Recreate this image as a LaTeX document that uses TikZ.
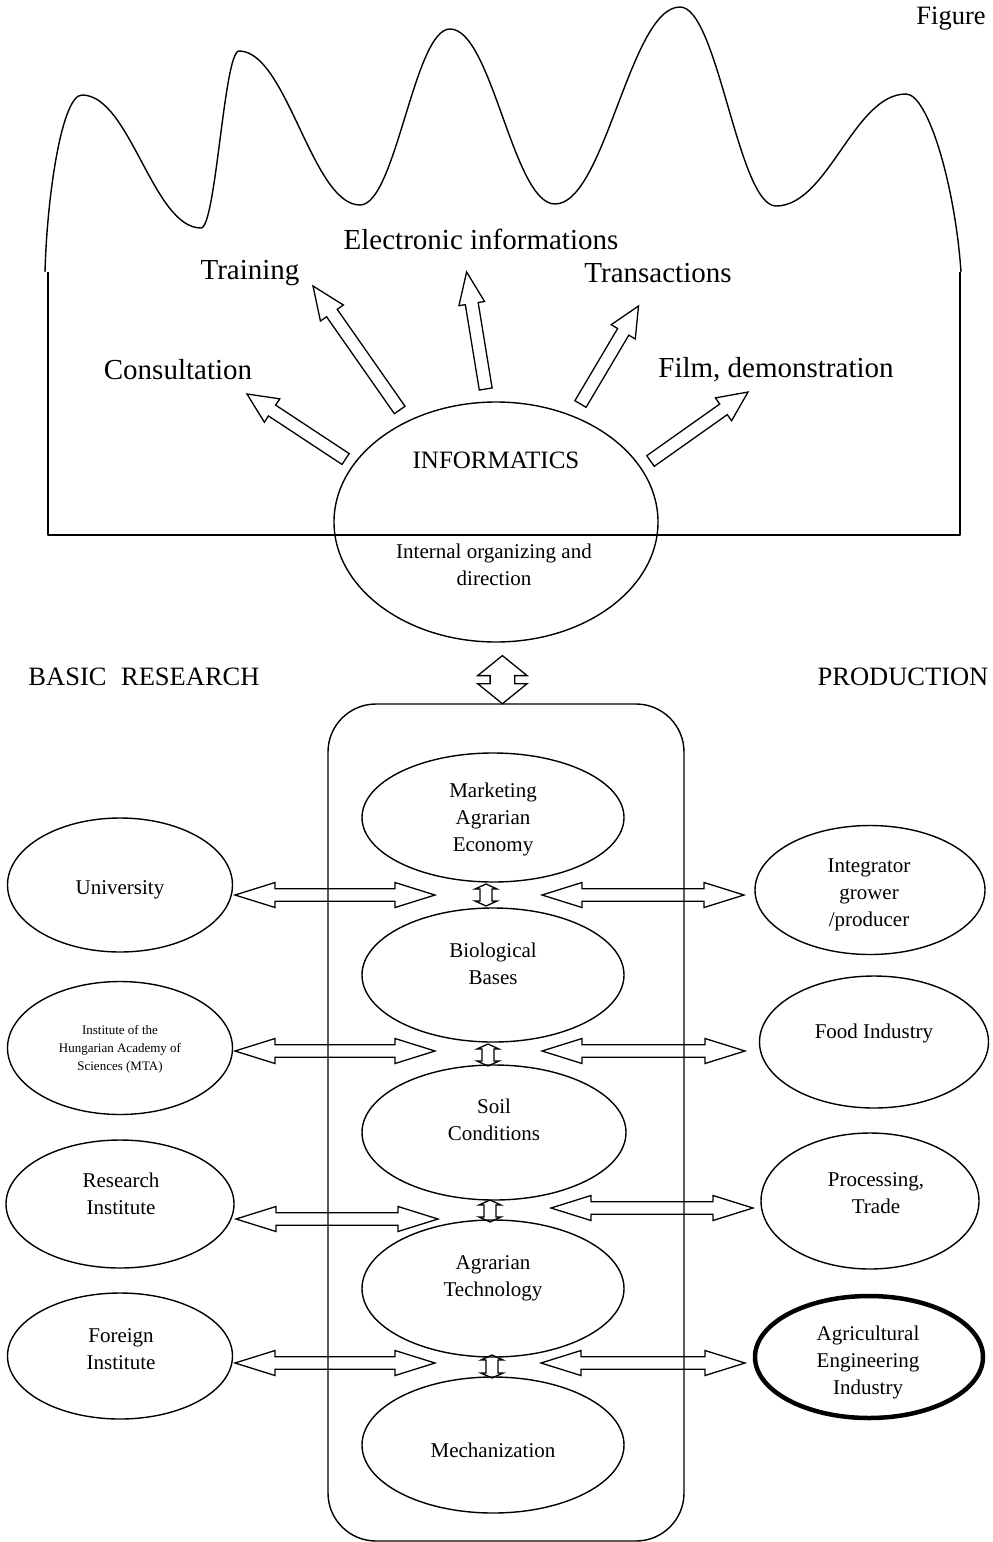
\documentclass[tikz,border=0pt]{standalone}
\usepackage{fontspec}
\setmainfont{Liberation Serif}
\usetikzlibrary{calc,shapes.geometric}

% hollow block arrow from tail #1 to tip #2: shaft half width #3, head half width #4, head length #5
\newcommand\outarrow[5]{%
  \coordinate (hb) at ($(#2)!#5!(#1)$);
  \draw[blockarrow] ($(#1)!#3!90:(#2)$) -- ($(hb)!#3!-90:(#1)$) -- ($(hb)!#4!-90:(#1)$) -- (#2)
    -- ($(hb)!#4!90:(#1)$) -- ($(hb)!#3!90:(#1)$) -- ($(#1)!#3!-90:(#2)$) -- cycle;
}
% hollow double-headed block arrow between tips #1 and #2
\newcommand\twowayarrow[5]{%
  \coordinate (hba) at ($(#1)!#5!(#2)$);
  \coordinate (hbb) at ($(#2)!#5!(#1)$);
  \draw[blockarrow] (#1) -- ($(hba)!#4!90:(#2)$) -- ($(hba)!#3!90:(#2)$) -- ($(hbb)!#3!-90:(#1)$)
    -- ($(hbb)!#4!-90:(#1)$) -- (#2) -- ($(hbb)!#4!90:(#1)$) -- ($(hbb)!#3!90:(#1)$)
    -- ($(hba)!#3!-90:(#2)$) -- ($(hba)!#4!-90:(#2)$) -- cycle;
}

\begin{document}
\begin{tikzpicture}[x=1pt,y=-1pt,
  outline/.style={draw, line width=1.4pt, line join=round},
  oval/.style={draw, ellipse, line width=1.4pt, inner sep=0pt},
  boldoval/.style={oval, line width=4.5pt},
  lbl/.style={align=center, inner sep=0pt, font=\fontsize{21}{27}\selectfont},
  tinylbl/.style={align=center, inner sep=0pt, font=\fontsize{13}{18}\selectfont},
  biglbl/.style={inner sep=0pt, font=\fontsize{29}{33}\selectfont},
  headlbl/.style={inner sep=0pt, font=\fontsize{26.5}{30}\selectfont},
  infolbl/.style={inner sep=0pt, font=\fontsize{25}{30}\selectfont},
  blockarrow/.style={draw, line width=1.3pt, line join=miter},
]
\useasboundingbox (0,0) rectangle (993,1542);

% ---------- upper panel: wavy outline over an open frame ----------
\draw[outline] (45,272) .. controls (47,195) and (62,95) .. (82,95)
  .. controls (130,95) and (153,228) .. (201,228)
  .. controls (216,228) and (224,51) .. (239,51)
  .. controls (287,51) and (312,205) .. (360,205)
  .. controls (396,205) and (414,29) .. (450,29)
  .. controls (492,29) and (513,204) .. (555,204)
  .. controls (605,204) and (630,7) .. (680,7)
  .. controls (718,7) and (738,206) .. (776,206)
  .. controls (828,206) and (854,94) .. (906,94)
  .. controls (928,94) and (955,185) .. (961,272);
\draw[outline] (48,272) -- (48,535) -- (960,535) -- (960,272);

\node[headlbl] (fig) at (951,19) {Figure};

\node[biglbl] (elec) at (481,239) {Electronic informations};
\node[biglbl] (train) at (250,273) {Training};
\node[biglbl] (trans) at (658,273) {Transactions};
\node[biglbl] (consult) at (178,370) {Consultation};
\node[biglbl] (film) at (776,370) {Film, demonstration};

\node[oval, minimum width=324pt, minimum height=240pt] (info) at (496,522) {};
\node[infolbl] (infot) at (496,460) {INFORMATICS};
\node[lbl] (internal) at (494,565) {Internal organizing and\\direction};

% arrows radiating from the informatics ellipse
\coordinate (a1t) at (345.6,459);  \coordinate (a1h) at (247,394);
\coordinate (a2t) at (399.7,410);  \coordinate (a2h) at (313,286);
\coordinate (a3t) at (485.7,389);  \coordinate (a3h) at (466.6,272);
\coordinate (a4t) at (580.5,404);  \coordinate (a4h) at (638.5,306);
\coordinate (a5t) at (650.5,461);  \coordinate (a5h) at (748,392);
\outarrow{a1t}{a1h}{6.5pt}{14pt}{30pt}
\outarrow{a2t}{a2h}{6.5pt}{14pt}{33pt}
\outarrow{a3t}{a3h}{6.5pt}{13pt}{32pt}
\outarrow{a4t}{a4h}{6.5pt}{14pt}{30pt}
\outarrow{a5t}{a5h}{6.5pt}{14pt}{30pt}

% ---------- side headings ----------
\node[headlbl] (basic) at (144,677) {BASIC\hspace{0.55em}RESEARCH};
\node[headlbl] (prod) at (903,677) {PRODUCTION};

% link between informatics and the central column
\coordinate (lk1) at (502.4,655.6);
\coordinate (lk2) at (502.4,703.7);
\twowayarrow{lk1}{lk2}{12.3pt}{24.7pt}{20pt}

% ---------- central column ----------
\draw[outline, rounded corners=48pt] (328,704) rectangle (684,1541);

\node[oval, minimum width=262pt, minimum height=129pt] (mkt) at (493,817.5) {};
\node[lbl] (mktt) at (493,819) {Marketing\\Agrarian\\Economy};
\node[oval, minimum width=262pt, minimum height=134pt] (bio) at (493,975) {};
\node[lbl] (biot) at (493,963.5) {Biological\\Bases};
\node[oval, minimum width=264pt, minimum height=135pt] (soil) at (494,1132.5) {};
\node[lbl] (soilt) at (494,1119.5) {Soil\\Conditions};
\node[oval, minimum width=262pt, minimum height=137pt] (agr) at (493,1288.5) {};
\node[lbl] (agrt) at (493,1278.5) {Agrarian\\Technology};
\node[oval, minimum width=262pt, minimum height=136pt] (mech) at (493,1445) {};
\node[lbl] (mecht) at (493,1450) {Mechanization};

% small links between the stacked ellipses
\coordinate (s1a) at (486,884);   \coordinate (s1b) at (486,906);
\coordinate (s2a) at (488,1044);  \coordinate (s2b) at (488,1066);
\coordinate (s3a) at (490,1200);  \coordinate (s3b) at (490,1222);
\coordinate (s4a) at (492,1355);  \coordinate (s4b) at (492,1378);
\twowayarrow{s1a}{s1b}{6pt}{11pt}{5pt}
\twowayarrow{s2a}{s2b}{6pt}{11pt}{5pt}
\twowayarrow{s3a}{s3b}{6pt}{11pt}{5pt}
\twowayarrow{s4a}{s4b}{6pt}{11pt}{5pt}

% ---------- basic research side ----------
\node[oval, minimum width=225pt, minimum height=134pt] (uni) at (120,885) {};
\node[lbl] (unit) at (120,890) {University};
\node[oval, minimum width=225pt, minimum height=133pt] (mta) at (120,1048) {};
\node[tinylbl] (mtat) at (120,1049) {Institute of the\\Hungarian Academy of\\Sciences (MTA)};
\node[oval, minimum width=228pt, minimum height=128pt] (res) at (120,1204) {};
\node[lbl] (rest) at (121,1193.5) {Research\\Institute};
\node[oval, minimum width=225pt, minimum height=126pt] (for) at (120,1356) {};
\node[lbl] (fort) at (121,1349.5) {Foreign\\Institute};

% ---------- production side ----------
\node[oval, minimum width=230pt, minimum height=129pt] (integ) at (870,890) {};
\node[lbl] (integt) at (869,895) {Integrator\\grower\\/producer};
\node[oval, minimum width=229pt, minimum height=132pt] (food) at (874,1042) {};
\node[lbl] (foodt) at (874,1033) {Food Industry};
\node[oval, minimum width=218pt, minimum height=136pt] (proc) at (870,1201) {};
\node[lbl] (proct) at (876,1193.5) {Processing,\\Trade};
\node[boldoval, minimum width=228pt, minimum height=122pt] (agi) at (869,1357) {};
\node[lbl] (agit) at (868,1362.5) {Agricultural\\Engineering\\Industry};

% ---------- horizontal links ----------
\coordinate (l1a) at (235,895);   \coordinate (l1b) at (435,895);
\coordinate (l2a) at (235,1051);  \coordinate (l2b) at (435,1051);
\coordinate (l3a) at (236,1219);  \coordinate (l3b) at (438,1219);
\coordinate (l4a) at (235,1363);  \coordinate (l4b) at (435,1363);
\coordinate (r1a) at (542,895);   \coordinate (r1b) at (744,895);
\coordinate (r2a) at (542,1051);  \coordinate (r2b) at (745,1051);
\coordinate (r3a) at (551,1208);  \coordinate (r3b) at (753,1208);
\coordinate (r4a) at (541,1363);  \coordinate (r4b) at (745,1363);
\twowayarrow{l1a}{l1b}{6.2pt}{12.5pt}{40pt}
\twowayarrow{l2a}{l2b}{6.2pt}{12.5pt}{40pt}
\twowayarrow{l3a}{l3b}{6.2pt}{12.5pt}{40pt}
\twowayarrow{l4a}{l4b}{6.2pt}{12.5pt}{40pt}
\twowayarrow{r1a}{r1b}{6.2pt}{12.5pt}{40pt}
\twowayarrow{r2a}{r2b}{6.2pt}{12.5pt}{40pt}
\twowayarrow{r3a}{r3b}{6.2pt}{12.5pt}{40pt}
\twowayarrow{r4a}{r4b}{6.2pt}{12.5pt}{40pt}
\end{tikzpicture}
\end{document}
